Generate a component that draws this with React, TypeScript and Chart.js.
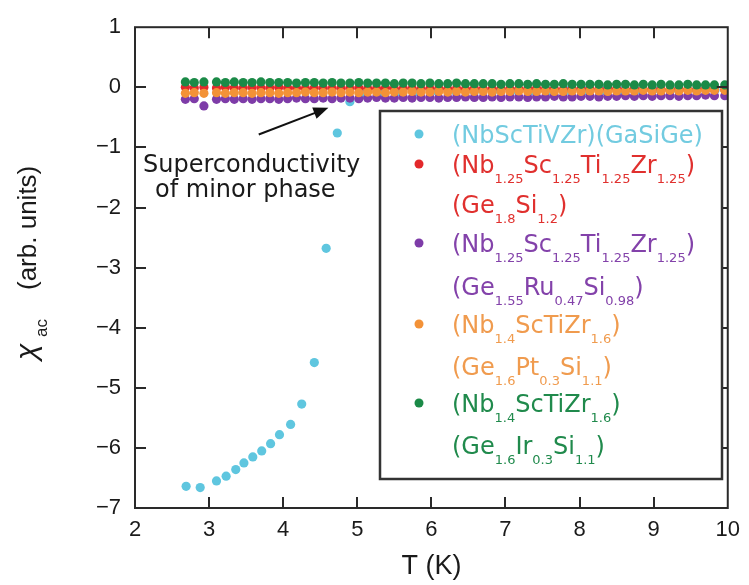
import React, { useEffect, useRef } from "react";
import { Chart, registerables } from "chart.js";
Chart.register(...registerables);

// ---- data ----
const X_TICKS = [2, 3, 4, 5, 6, 7, 8, 9, 10];
const Y_TICKS = [1, 0, -1, -2, -3, -4, -5, -6, -7];

const T_CYAN = [2.69, 2.88, 3.10, 3.23, 3.36, 3.47, 3.59, 3.71, 3.83, 3.95, 4.10, 4.25, 4.42, 4.58, 4.73, 4.90,
  5.08, 5.33, 5.58, 5.83, 6.08, 6.33, 6.58, 6.83, 7.08, 7.33, 7.58, 7.83, 8.08, 8.33, 8.58, 8.83, 9.08, 9.33, 9.58, 9.83];
const CHI_CYAN = [-6.64, -6.66, -6.55, -6.47, -6.36, -6.25, -6.15, -6.05, -5.93, -5.78, -5.61, -5.27, -4.58, -2.68, -0.76, -0.24,
  -0.12, -0.09, -0.08, -0.08, -0.07, -0.07, -0.07, -0.06, -0.06, -0.06, -0.06, -0.05, -0.05, -0.05, -0.05, -0.05, -0.04, -0.04, -0.04, -0.04];

const T_FLAT = [2.68, 2.80, 2.93,
  3.10, 3.22, 3.34, 3.46, 3.58, 3.70, 3.82, 3.94, 4.06, 4.18, 4.30, 4.42, 4.54, 4.66, 4.78, 4.90,
  5.02, 5.14, 5.26, 5.38, 5.50, 5.62, 5.74, 5.86, 5.98, 6.10, 6.22, 6.34, 6.46, 6.58, 6.70, 6.82, 6.94,
  7.06, 7.18, 7.30, 7.42, 7.54, 7.66, 7.78, 7.90, 8.02, 8.14, 8.26, 8.38, 8.50, 8.62, 8.74, 8.86, 8.98,
  9.10, 9.22, 9.34, 9.46, 9.58, 9.70, 9.82, 9.96];

const CHI_GREEN = [0.09, 0.08, 0.09, 0.09, 0.08, 0.09, 0.08, 0.08, 0.09, 0.08,
  0.08, 0.08, 0.07, 0.08, 0.08, 0.07, 0.08, 0.07, 0.07, 0.08,
  0.07, 0.07, 0.07, 0.06, 0.07, 0.07, 0.06, 0.07, 0.06, 0.06,
  0.07, 0.06, 0.06, 0.06, 0.06, 0.05, 0.06, 0.06, 0.05, 0.06,
  0.05, 0.05, 0.06, 0.05, 0.05, 0.05, 0.05, 0.04, 0.05, 0.05,
  0.04, 0.05, 0.04, 0.05, 0.04, 0.04, 0.05, 0.04, 0.04, 0.04, 0.04];

const CHI_RED = [0.00, -0.01, 0.00, -0.01, 0.00, -0.01, -0.01, 0.00, -0.01, -0.01,
  0.00, -0.01, -0.01, -0.02, -0.01, -0.01, -0.02, -0.01, -0.02, -0.01,
  -0.02, -0.02, -0.01, -0.02, -0.02, -0.02, -0.03, -0.02, -0.02, -0.03,
  -0.02, -0.03, -0.02, -0.03, -0.03, -0.02, -0.03, -0.03, -0.03, -0.02,
  -0.03, -0.03, -0.04, -0.03, -0.03, -0.03, -0.04, -0.03, -0.03, -0.04,
  -0.03, -0.04, -0.03, -0.04, -0.04, -0.03, -0.04, -0.04, -0.03, -0.04, -0.04];

const CHI_ORANGE = [-0.10, -0.09, -0.10, -0.09, -0.10, -0.09, -0.09, -0.10, -0.09, -0.09,
  -0.10, -0.09, -0.09, -0.08, -0.09, -0.09, -0.08, -0.09, -0.08, -0.09,
  -0.08, -0.08, -0.09, -0.08, -0.08, -0.07, -0.08, -0.08, -0.07, -0.08,
  -0.07, -0.08, -0.07, -0.07, -0.08, -0.07, -0.07, -0.06, -0.07, -0.07,
  -0.06, -0.07, -0.07, -0.06, -0.07, -0.06, -0.06, -0.07, -0.06, -0.06,
  -0.06, -0.05, -0.06, -0.06, -0.05, -0.06, -0.05, -0.06, -0.05, -0.05, -0.05];

const CHI_PURPLE = [-0.20, -0.19, -0.31, -0.20, -0.19, -0.20, -0.19, -0.20, -0.19, -0.19,
  -0.20, -0.19, -0.18, -0.19, -0.19, -0.18, -0.19, -0.18, -0.18, -0.19,
  -0.18, -0.17, -0.18, -0.18, -0.17, -0.18, -0.17, -0.17, -0.18, -0.17,
  -0.17, -0.16, -0.17, -0.17, -0.16, -0.17, -0.16, -0.16, -0.17, -0.16,
  -0.16, -0.15, -0.16, -0.16, -0.15, -0.15, -0.16, -0.15, -0.15, -0.14,
  -0.15, -0.14, -0.15, -0.14, -0.14, -0.15, -0.14, -0.14, -0.13, -0.14, -0.14];

// legend text: "_" prefix = subscript
const LEGEND_CYAN = [["(NbScTiVZr)(GaSiGe)"]];
const LEGEND_RED = [["(Nb", "_1.25", "Sc", "_1.25", "Ti", "_1.25", "Zr", "_1.25", ")"], ["(Ge", "_1.8", "Si", "_1.2", ")"]];
const LEGEND_PURPLE = [["(Nb", "_1.25", "Sc", "_1.25", "Ti", "_1.25", "Zr", "_1.25", ")"], ["(Ge", "_1.55", "Ru", "_0.47", "Si", "_0.98", ")"]];
const LEGEND_ORANGE = [["(Nb", "_1.4", "ScTiZr", "_1.6", ")"], ["(Ge", "_1.6", "Pt", "_0.3", "Si", "_1.1", ")"]];
const LEGEND_GREEN = [["(Nb", "_1.4", "ScTiZr", "_1.6", ")"], ["(Ge", "_1.6", "Ir", "_0.3", "Si", "_1.1", ")"]];

const ANNOT_LINES = ["Superconductivity", "of minor phase"];
const X_TITLE = "T (K)";

const C_CYAN = "#5fc6df";
const C_RED = "#e3282b";
const C_PURPLE = "#7e3ca8";
const C_ORANGE = "#f39237";
const C_GREEN = "#1b8a47";

const TXT_CYAN = "#72cbe0";
const TXT_RED = "#e0302e";
const TXT_PURPLE = "#8342aa";
const TXT_ORANGE = "#f09b4e";
const TXT_GREEN = "#208a4c";

const TICK_FONT = "'Liberation Sans', Arial, sans-serif";
const TEXT_FONT = "'DejaVu Sans', sans-serif";

function pts(xs: number[], ys: number[]) {
  return xs.map((x, i) => ({ x, y: ys[i] }));
}

const decorPlugin = {
  id: "decor",
  afterDraw(chart: any) {
    const { ctx, chartArea: a, scales } = chart;
    const xs = scales.x;
    const ys = scales.y;
    ctx.save();
    // frame
    ctx.strokeStyle = "#2a2a2a";
    ctx.lineWidth = 2;
    ctx.strokeRect(a.left, a.top, a.right - a.left, a.bottom - a.top);
    // inward ticks on all sides
    const L = 11;
    ctx.beginPath();
    X_TICKS.slice(1, -1).forEach((v) => {
      const px = Math.round(xs.getPixelForValue(v));
      ctx.moveTo(px, a.bottom);
      ctx.lineTo(px, a.bottom - L);
      ctx.moveTo(px, a.top);
      ctx.lineTo(px, a.top + L);
    });
    Y_TICKS.slice(1, -1).forEach((v) => {
      const py = Math.round(ys.getPixelForValue(v));
      ctx.moveTo(a.left, py);
      ctx.lineTo(a.left + L, py);
      ctx.moveTo(a.right, py);
      ctx.lineTo(a.right - L, py);
    });
    ctx.stroke();

    // annotation arrow
    const x0 = xs.getPixelForValue(3.67), y0 = ys.getPixelForValue(-0.785);
    const x1 = xs.getPixelForValue(4.61), y1 = ys.getPixelForValue(-0.34);
    const ang = Math.atan2(y1 - y0, x1 - x0);
    ctx.strokeStyle = "#111";
    ctx.fillStyle = "#111";
    ctx.lineWidth = 2;
    ctx.beginPath();
    ctx.moveTo(x0, y0);
    ctx.lineTo(x1 - 10 * Math.cos(ang), y1 - 10 * Math.sin(ang));
    ctx.stroke();
    ctx.beginPath();
    ctx.moveTo(x1, y1);
    ctx.lineTo(x1 - 15 * Math.cos(ang) + 6 * Math.sin(ang), y1 - 15 * Math.sin(ang) - 6 * Math.cos(ang));
    ctx.lineTo(x1 - 15 * Math.cos(ang) - 6 * Math.sin(ang), y1 - 15 * Math.sin(ang) + 6 * Math.cos(ang));
    ctx.closePath();
    ctx.fill();

    // annotation text
    ctx.font = `24px ${TEXT_FONT}`;
    ctx.fillStyle = "#1a1a1a";
    ctx.textBaseline = "alphabetic";
    ctx.textAlign = "left";
    ctx.fillText(ANNOT_LINES[0], 143, 172);
    ctx.fillText(ANNOT_LINES[1], 155, 197);

    // legend box
    const bx = 380, by = 111, bw = 342, bh = 368;
    ctx.fillStyle = "#ffffff";
    ctx.fillRect(bx, by, bw, bh);
    ctx.strokeStyle = "#333";
    ctx.lineWidth = 2.5;
    ctx.strokeRect(bx, by, bw, bh);

    const entries = [
      { mark: C_CYAN, txt: TXT_CYAN, lines: LEGEND_CYAN },
      { mark: C_RED, txt: TXT_RED, lines: LEGEND_RED },
      { mark: C_PURPLE, txt: TXT_PURPLE, lines: LEGEND_PURPLE },
      { mark: C_ORANGE, txt: TXT_ORANGE, lines: LEGEND_ORANGE },
      { mark: C_GREEN, txt: TXT_GREEN, lines: LEGEND_GREEN },
    ];
    const baselines = [143, 173, 213, 252, 295, 333, 375, 412, 454];
    let li = 0;
    entries.forEach((e) => {
      e.lines.forEach((segs, k) => {
        const base = baselines[li++];
        if (k === 0) {
          ctx.fillStyle = e.mark;
          ctx.beginPath();
          ctx.arc(419, base - 9, 4.5, 0, Math.PI * 2);
          ctx.fill();
        }
        let cx = 452;
        ctx.fillStyle = e.txt;
        segs.forEach((s) => {
          if (s.startsWith("_")) {
            const t = s.slice(1);
            ctx.font = `13px ${TEXT_FONT}`;
            ctx.fillText(t, cx, base + 10);
            cx += ctx.measureText(t).width;
          } else {
            ctx.font = `24px ${TEXT_FONT}`;
            ctx.fillText(s, cx, base);
            cx += ctx.measureText(s).width;
          }
        });
      });
    });

    // x title
    ctx.fillStyle = "#1a1a1a";
    ctx.font = `27px ${TICK_FONT}`;
    ctx.textAlign = "center";
    ctx.fillText(X_TITLE, (a.left + a.right) / 2, 574);

    // y title (rotated)
    ctx.save();
    ctx.translate(36, 362);
    ctx.rotate(-Math.PI / 2);
    ctx.textAlign = "left";
    ctx.font = `italic 30px ${TICK_FONT}`;
    ctx.fillText("\u03C7", 2, 0);
    ctx.font = `17px ${TICK_FONT}`;
    ctx.fillText("ac", 25, 11);
    ctx.font = `26px ${TICK_FONT}`;
    ctx.fillText("(arb. units)", 72, 0);
    ctx.restore();

    ctx.restore();
  },
};

export default function App() {
  const ref = useRef<HTMLCanvasElement | null>(null);
  useEffect(() => {
    if (!ref.current) return;
    const ds = (label: string, xsv: number[], ysv: number[], color: string, order: number) => ({
      label,
      data: pts(xsv, ysv),
      showLine: false,
      pointRadius: 4.6,
      pointBorderWidth: 0,
      pointBackgroundColor: color,
      pointBorderColor: color,
      order,
    });
    const chart = new Chart(ref.current, {
      type: "scatter",
      data: {
        datasets: [
          ds("cyan", T_CYAN, CHI_CYAN, C_CYAN, 4),
          ds("red", T_FLAT, CHI_RED, C_RED, 3),
          ds("purple", T_FLAT, CHI_PURPLE, C_PURPLE, 2),
          ds("orange", T_FLAT, CHI_ORANGE, C_ORANGE, 1),
          ds("green", T_FLAT, CHI_GREEN, C_GREEN, 0),
        ],
      },
      options: {
        animation: false,
        responsive: false,
        devicePixelRatio: 1,
        layout: { padding: { left: 0, top: 24, right: 16, bottom: 0 } },
        plugins: { legend: { display: false }, tooltip: { enabled: false }, title: { display: false } },
        scales: {
          x: {
            type: "linear",
            min: 2,
            max: 10,
            afterBuildTicks: (s: any) => { s.ticks = X_TICKS.map((v) => ({ value: v })); },
            afterFit: (s: any) => { s.height = 77; },
            grid: { display: false, drawTicks: false },
            border: { display: false },
            ticks: {
              padding: 9,
              color: "#1a1a1a",
              font: { family: TICK_FONT, size: 22 },
              maxRotation: 0,
              callback: (v: any) => String(v),
            },
          },
          y: {
            type: "linear",
            min: -7,
            max: 1,
            afterBuildTicks: (s: any) => { s.ticks = Y_TICKS.map((v) => ({ value: v })); },
            afterFit: (s: any) => { s.width = 135; },
            grid: { display: false, drawTicks: false },
            border: { display: false },
            ticks: {
              padding: 14,
              color: "#1a1a1a",
              font: { family: TICK_FONT, size: 22 },
              callback: (v: any) => (Number(v) < 0 ? "\u2212" + Math.abs(Number(v)) : String(v)),
            },
          },
        },
      },
      plugins: [decorPlugin],
    } as any);
    return () => chart.destroy();
  }, []);
  return (
    <div style={{ position: "absolute", left: 0, top: 0, width: 749, height: 585, background: "#fff" }}>
      <canvas ref={ref} width={749} height={585} style={{ display: "block" }} />
    </div>
  );
}
